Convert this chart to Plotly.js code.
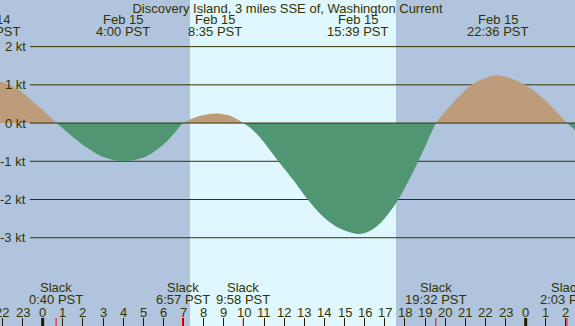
<!DOCTYPE html>
<html><head><meta charset="utf-8">
<script src="https://cdn.plot.ly/plotly-3.0.1.min.js"></script>
<style>html,body{margin:0;padding:0;background:#b0c4de;overflow:hidden}#chart{width:575px;height:326px}</style>
</head><body><div id="chart"></div>
<script>
const chartTitle = "Discovery Island, 3 miles SSE of, Washington Current";
// hours relative to Feb 15 00:00 PST, current speed in knots (+ flood, - ebb)
const hours = [-2.62, -2.12, -1.6, -1.13, -0.47, 0.03, 0.69, 1.52, 2.19, 3.01, 4.0, 4.7, 5.33, 6.16, 6.95,
  7.5, 8.0, 8.58, 9.2, 9.6, 9.97, 10.4, 10.8, 11.25, 11.71, 12.45, 13.17, 13.94, 14.77, 15.65, 16.2, 16.76, 17.55,
  18.2, 18.66, 19.1, 19.53, 20.3, 21.32, 22.0, 22.6, 23.3, 23.97, 24.8, 25.5, 26.05, 26.6];
const knots = [1.12, 1.09, 0.98, 0.85, 0.55, 0.33, 0, -0.37, -0.64, -0.89, -1.0, -0.95, -0.82, -0.48, 0,
  0.13, 0.21, 0.25, 0.21, 0.12, 0, -0.16, -0.38, -0.68, -1.0, -1.49, -2.0, -2.45, -2.76, -2.9, -2.84, -2.63, -2.1,
  -1.49, -1.0, -0.5, 0, 0.48, 1.0, 1.18, 1.25, 1.16, 1.0, 0.67, 0.31, 0, -0.25];
const extremeTimes = [-2.62, 4.0, 8.583, 15.65, 22.6];
const extremeDates = ["Feb 14", "Feb 15", "Feb 15", "Feb 15", "Feb 15"];
const extremeLabels = ["21:23 PST", "4:00 PST", "8:35 PST", "15:39 PST", "22:36 PST"];
const slackTimes = [0.667, 6.95, 9.967, 19.533, 26.05];
const slackLabels = ["0:40 PST", "6:57 PST", "9:58 PST", "19:32 PST", "2:03 PST"];
const hourTicks = [-2,-1,0,1,2,3,4,5,6,7,8,9,10,11,12,13,14,15,16,17,18,19,20,21,22,23,24,25,26];
const hourLabels = ["22","23","0","1","2","3","4","5","6","7","8","9","10","11","12","13","14","15","16","17","18","19","20","21","22","23","0","1","2"];
const midnights = [0, 24];
const sunrise = 7.32, sunset = 17.555;
const gridKnots = [2, 1, 0, -1, -2, -3];
const gridLabels = ["2 kt", "1 kt", "0 kt", "-1 kt", "-2 kt", "-3 kt"];

const W = 575, H = 326;
const xRange = [-2.12, 26.45];
const yRange = [-5.31, 3.22];
const NIGHT = "#b0c4de", DAY = "#dff7ff", FLOOD = "#be9b7b", EBB = "#519672", INK = "#333300";
const FONT = {family: "'Liberation Sans', Arial, sans-serif", size: 13, color: INK};

// split the curve into flood/ebb segments at the slack (zero) points
const traces = [];
let start = 0;
for (let i = 1; i < hours.length; i++) {
  if (knots[i] === 0 || i === hours.length - 1) {
    const xs = hours.slice(start, i + 1), ys = knots.slice(start, i + 1);
    const sgn = ys.find(v => v !== 0) || 0;
    traces.push({x: xs, y: ys, type: "scatter", mode: "lines", hoverinfo: "skip",
      line: {width: 0, shape: "spline", color: sgn > 0 ? FLOOD : EBB},
      fill: "tozeroy", fillcolor: sgn > 0 ? FLOOD : EBB});
    start = i;
  }
}

const shapes = [{type: "rect", layer: "below", xref: "x", yref: "paper", x0: sunrise, x1: sunset, y0: 0, y1: 1,
  fillcolor: DAY, line: {width: 0}}];
gridKnots.forEach(k => shapes.push({type: "line", layer: k === 0 ? "above" : "below", xref: "paper", yref: "y",
  x0: 30 / W, x1: 1, y0: k, y1: k, line: {color: INK, width: 1}}));
midnights.forEach(m => shapes.push({type: "line", xref: "x", yref: "paper", x0: m, x1: m, y0: 0, y1: 8 / H,
  line: {color: "#221a00", width: 3}}));
slackTimes.forEach(t => shapes.push({type: "line", xref: "x", yref: "paper", x0: t, x1: t, y0: 0, y1: 8 / H,
  line: {color: "#ff0000", width: 1}}));

const annotations = [];
const pyf = px => 1 - px / H;
const toPaper = t => (t - xRange[0]) / (xRange[1] - xRange[0]);
gridKnots.forEach((k, i) => annotations.push({xref: "paper", yref: "y", x: 28 / W, y: k, xanchor: "right",
  yanchor: "middle", text: gridLabels[i], showarrow: false, font: FONT}));
extremeTimes.forEach((t, i) => {
  const inside = t >= xRange[0] && t <= xRange[1];
  const xr = inside ? "x" : "paper", xv = inside ? t : toPaper(t);
  annotations.push({xref: xr, yref: "paper", x: xv, y: pyf(19), xanchor: "center", yanchor: "middle",
    text: extremeDates[i], showarrow: false, font: FONT});
  annotations.push({xref: xr, yref: "paper", x: xv, y: pyf(31.5), xanchor: "center", yanchor: "middle",
    text: extremeLabels[i], showarrow: false, font: FONT});
});
slackTimes.forEach((t, i) => {
  annotations.push({xref: "x", yref: "paper", x: t, y: pyf(287), xanchor: "center", yanchor: "middle",
    text: "Slack", showarrow: false, font: FONT});
  annotations.push({xref: "x", yref: "paper", x: t, y: pyf(299.7), xanchor: "center", yanchor: "middle",
    text: slackLabels[i], showarrow: false, font: FONT});
});
hourTicks.forEach((h, i) => annotations.push({xref: "x", yref: "paper", x: h, y: pyf(312), xanchor: "center",
  yanchor: "middle", text: hourLabels[i], showarrow: false, font: FONT}));

const layout = {
  width: W, height: H, margin: {l: 0, r: 0, t: 0, b: 0, pad: 0},
  paper_bgcolor: NIGHT, plot_bgcolor: NIGHT, showlegend: false, font: FONT,
  title: {text: chartTitle, x: 0.5, xanchor: "center", y: pyf(8), yanchor: "middle", yref: "container", font: FONT},
  xaxis: {range: xRange, showgrid: false, zeroline: false, showline: false, ticks: "inside", ticklen: 8,
    tickwidth: 1, tickcolor: "#221a00", tickvals: hourTicks, showticklabels: false, fixedrange: true},
  yaxis: {range: yRange, showgrid: false, zeroline: false, showline: false, showticklabels: false, ticks: "",
    fixedrange: true},
  shapes: shapes, annotations: annotations
};
Plotly.newPlot("chart", traces, layout, {staticPlot: true, displayModeBar: false});
</script></body></html>
